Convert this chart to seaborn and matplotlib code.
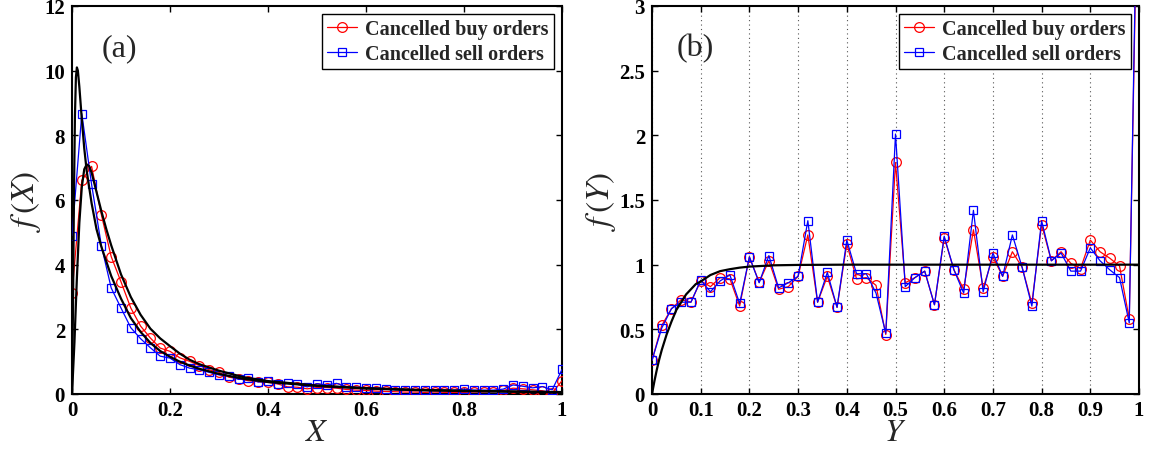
import numpy as np
import pandas as pd
import matplotlib
matplotlib.use("Agg")
import matplotlib.pyplot as plt
import seaborn as sns

# ---------------- data ----------------
x_grid = np.linspace(0, 1, 51)

buy_a = [3.11, 6.61, 7.04, 5.54, 4.25, 3.47, 2.66, 2.10, 1.73, 1.42,
         1.32, 1.12, 1.01, 0.88, 0.75, 0.67, 0.52, 0.47, 0.41, 0.38,
         0.36, 0.31, 0.22, 0.21, 0.16, 0.20, 0.20, 0.18, 0.14, 0.12,
         0.11, 0.09, 0.08, 0.07, 0.06, 0.06, 0.05, 0.06, 0.05, 0.05,
         0.05, 0.06, 0.06, 0.07, 0.11, 0.18, 0.16, 0.13, 0.10, 0.03,
         0.41]
sell_a = [4.90, 8.67, 6.48, 4.58, 3.28, 2.66, 2.05, 1.71, 1.43, 1.17,
          1.11, 0.91, 0.80, 0.75, 0.67, 0.59, 0.57, 0.45, 0.50, 0.37,
          0.40, 0.32, 0.33, 0.30, 0.22, 0.32, 0.28, 0.33, 0.23, 0.21,
          0.19, 0.19, 0.16, 0.13, 0.13, 0.13, 0.13, 0.13, 0.12, 0.12,
          0.15, 0.12, 0.12, 0.12, 0.15, 0.28, 0.24, 0.19, 0.23, 0.13,
          0.76]

fitA_x = [0, 0.002, 0.004, 0.006, 0.008, 0.010, 0.012, 0.015, 0.02, 0.025,
          0.03, 0.04, 0.05, 0.06, 0.08, 0.10, 0.12, 0.14, 0.16, 0.18,
          0.20, 0.22, 0.24, 0.26, 0.30, 0.35, 0.40, 0.50, 0.60, 0.70,
          0.80, 0.90, 1.00]
fitA_y = [0, 2.6, 6.2, 8.6, 9.8, 10.1, 10.0, 9.5, 8.5, 7.6,
          6.9, 5.9, 5.1, 4.55, 3.65, 2.95, 2.35, 1.92, 1.58, 1.33,
          1.15, 1.0, 0.88, 0.78, 0.62, 0.47, 0.37, 0.25, 0.17, 0.12,
          0.09, 0.07, 0.05]
fitB_x = [0, 0.005, 0.01, 0.015, 0.02, 0.025, 0.03, 0.035, 0.04, 0.05,
          0.06, 0.07, 0.08, 0.10, 0.12, 0.14, 0.16, 0.18, 0.20, 0.22,
          0.24, 0.26, 0.30, 0.35, 0.40, 0.50, 0.60, 0.70, 0.80, 0.90, 1.00]
fitB_y = [0, 1.6, 3.6, 5.3, 6.4, 6.95, 7.1, 7.05, 6.85, 6.25,
          5.65, 5.1, 4.6, 3.7, 3.0, 2.45, 2.02, 1.72, 1.48, 1.25,
          1.06, 0.92, 0.72, 0.52, 0.40, 0.26, 0.18, 0.13, 0.10, 0.08, 0.06]

buy_b = [0.26, 0.53, 0.66, 0.73, 0.71, 0.875, 0.83, 0.90, 0.89, 0.68,
         1.06, 0.865, 1.03, 0.81, 0.83, 0.91, 1.23, 0.71, 0.91, 0.67,
         1.16, 0.89, 0.90, 0.84, 0.46, 1.79, 0.86, 0.90, 0.95, 0.69,
         1.21, 0.96, 0.81, 1.27, 0.82, 1.06, 0.91, 1.10, 0.98, 0.70,
         1.31, 1.03, 1.10, 1.01, 0.97, 1.19, 1.10, 1.05, 0.99, 0.58,
         4.6]
sell_b = [0.26, 0.51, 0.66, 0.71, 0.71, 0.88, 0.79, 0.875, 0.92, 0.70,
          1.06, 0.86, 1.07, 0.82, 0.86, 0.91, 1.34, 0.71, 0.94, 0.67,
          1.19, 0.93, 0.93, 0.78, 0.47, 2.01, 0.83, 0.90, 0.95, 0.69,
          1.22, 0.96, 0.78, 1.42, 0.79, 1.09, 0.91, 1.23, 0.98, 0.68,
          1.34, 1.03, 1.09, 0.95, 0.95, 1.13, 1.03, 0.96, 0.90, 0.55,
          4.8]

fitC_x = [0, 0.005, 0.01, 0.015, 0.02, 0.03, 0.04, 0.05, 0.06, 0.07,
          0.08, 0.09, 0.10, 0.12, 0.14, 0.16, 0.18, 0.20, 0.25, 0.30,
          0.40, 1.0]
fitC_y = [0, 0.10, 0.19, 0.27, 0.34, 0.46, 0.56, 0.65, 0.71, 0.77,
          0.81, 0.85, 0.87, 0.92, 0.95, 0.965, 0.977, 0.985, 0.995, 0.998,
          1.0, 1.0]

labels = ["Cancelled buy orders", "Cancelled sell orders"]
xticks_a = [0, 0.2, 0.4, 0.6, 0.8, 1]
xticklabels_a = ["0", "0.2", "0.4", "0.6", "0.8", "1"]
yticks_a = [0, 2, 4, 6, 8, 10, 12]
xticks_b = [0, 0.1, 0.2, 0.3, 0.4, 0.5, 0.6, 0.7, 0.8, 0.9, 1]
xticklabels_b = ["0", "0.1", "0.2", "0.3", "0.4", "0.5", "0.6", "0.7", "0.8", "0.9", "1"]
yticks_b = [0, 0.5, 1, 1.5, 2, 2.5, 3]
yticklabels_b = ["0", "0.5", "1", "1.5", "2", "2.5", "3"]

# ---------------- style ----------------
sns.set_style("ticks")
plt.rcParams["font.family"] = ["Liberation Serif", "DejaVu Serif"]
plt.rcParams["font.weight"] = "normal"
plt.rcParams["mathtext.fontset"] = "stix"
plt.rcParams["axes.linewidth"] = 1.5
plt.rcParams["xtick.direction"] = "in"
plt.rcParams["ytick.direction"] = "in"
plt.rcParams["xtick.top"] = True
plt.rcParams["ytick.right"] = True
plt.rcParams["xtick.major.size"] = 4
plt.rcParams["ytick.major.size"] = 4
plt.rcParams["xtick.major.width"] = 1.0
plt.rcParams["ytick.major.width"] = 1.0
plt.rcParams["xtick.color"] = "black"
plt.rcParams["ytick.color"] = "black"
plt.rcParams["axes.edgecolor"] = "black"

fig = plt.figure(figsize=(11.52, 4.52), dpi=100)
ax1 = fig.add_axes([72 / 1152, 57 / 452, 490 / 1152, 388 / 452])
ax2 = fig.add_axes([652 / 1152, 57 / 452, 487 / 1152, 388 / 452])

RED = "#ff0000"
BLUE = "#0000ff"


def draw_series(ax, x, y, color, marker, ms, label):
    df = pd.DataFrame({"x": x, "y": y})
    sns.lineplot(data=df, x="x", y="y", ax=ax, color=color, lw=0.9,
                 marker=marker, markersize=ms, markerfacecolor="none",
                 markeredgecolor=color, markeredgewidth=0.9, label=label,
                 sort=False, estimator=None, zorder=3)


def draw_fit(ax, x, y):
    df = pd.DataFrame({"x": x, "y": y})
    sns.lineplot(data=df, x="x", y="y", ax=ax, color="black", lw=1.6,
                 sort=False, estimator=None, zorder=4, legend=False)


# panel (a)
draw_series(ax1, x_grid, buy_a, RED, "o", 7, labels[0])
draw_series(ax1, x_grid, sell_a, BLUE, "s", 6, labels[1])
draw_fit(ax1, fitA_x, fitA_y)
draw_fit(ax1, fitB_x, fitB_y)
ax1.set_xlim(0, 1)
ax1.set_ylim(0, 12)
ax1.set_xticks(xticks_a)
ax1.set_xticklabels(xticklabels_a)
ax1.set_yticks(yticks_a)
ax1.set_xlabel(r"$X$", fontsize=23, labelpad=-1, fontweight="normal")
ax1.set_ylabel(r"$f\,(X)$", fontsize=24, labelpad=1, fontweight="normal")
ax1.text(0.096, 0.893, "(a)", transform=ax1.transAxes, fontsize=23,
         fontweight="normal", ha="center", va="center")

# panel (b)
ax2.grid(axis="x", linestyle=(0, (1, 3)), color="#555555", lw=0.8)
draw_series(ax2, x_grid, buy_b, RED, "o", 7, labels[0])
draw_series(ax2, x_grid, sell_b, BLUE, "s", 6, labels[1])
draw_fit(ax2, fitC_x, fitC_y)
ax2.set_xlim(0, 1)
ax2.set_ylim(0, 3)
ax2.set_xticks(xticks_b)
ax2.set_xticklabels(xticklabels_b)
ax2.set_yticks(yticks_b)
ax2.set_yticklabels(yticklabels_b)
ax2.set_xlabel(r"$Y$", fontsize=23, labelpad=-1, fontweight="normal")
ax2.set_ylabel(r"$f\,(Y)$", fontsize=24, labelpad=1, fontweight="normal")
ax2.text(0.089, 0.893, "(b)", transform=ax2.transAxes, fontsize=23,
         fontweight="normal", ha="center", va="center")

for ax in (ax1, ax2):
    ax.tick_params(labelsize=15)
    ax.tick_params(axis="x", pad=4)
    ax.tick_params(axis="y", pad=5)
    for lab in ax.get_xticklabels() + ax.get_yticklabels():
        lab.set_fontweight("bold")
    leg = ax.legend(loc="upper right", frameon=True,
                    fancybox=False, framealpha=1, edgecolor="black",
                    handlelength=1.5, handletextpad=0.4, labelspacing=0.25,
                    borderpad=0.25, borderaxespad=0.4,
                    prop={"weight": "bold", "size": 14.5})
    leg.get_frame().set_linewidth(1.0)

fig.savefig("out.png", dpi=100)
